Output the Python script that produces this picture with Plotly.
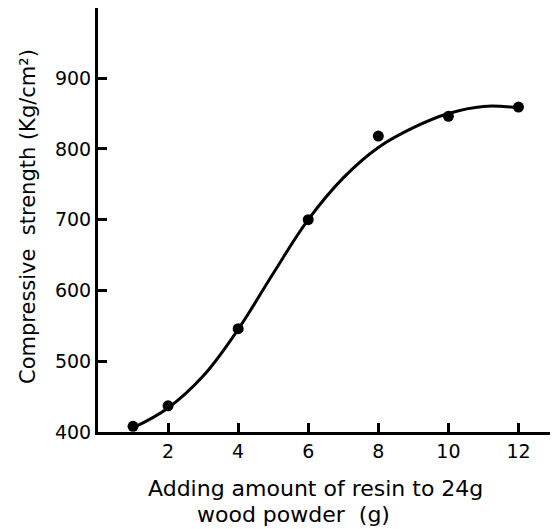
import plotly.graph_objects as go

# measured points
resin_g = [1, 2, 4, 6, 8, 10, 12]
strength = [408, 437, 546, 700, 818, 846, 859]

# fitted curve
curve_x = [1, 2, 3, 4, 5, 6, 7, 8, 9, 10, 11, 12]
curve_y = [406, 434, 479, 545, 624, 700, 759, 802, 830, 850, 860, 858]

x_ticks = [2, 4, 6, 8, 10, 12]
y_ticks = [400, 500, 600, 700, 800, 900]

FONT = "DejaVu Sans"

fig = go.Figure()
fig.add_trace(go.Scatter(x=curve_x, y=curve_y, mode="lines",
                         line=dict(color="black", width=3, shape="spline", smoothing=1.1),
                         hoverinfo="skip", showlegend=False, cliponaxis=False))
fig.add_trace(go.Scatter(x=resin_g, y=strength, mode="markers",
                         marker=dict(color="black", size=11),
                         showlegend=False, cliponaxis=False))

fig.update_layout(
    width=552, height=529,
    margin=dict(l=98, r=2, t=8, b=97),
    paper_bgcolor="white", plot_bgcolor="white",
    font=dict(family=FONT, color="black", size=19),
    xaxis=dict(range=[0, 12.9], tickvals=x_ticks, ticktext=[str(v) for v in x_ticks],
               ticks="inside", ticklen=9, tickwidth=3, tickcolor="black",
               showline=True, linecolor="black", linewidth=3, showgrid=False,
               zeroline=False, tickfont=dict(size=19, family=FONT)),
    yaxis=dict(range=[400, 999], tickvals=y_ticks, ticktext=[str(v) for v in y_ticks],
               ticks="inside", ticklen=9, tickwidth=3, tickcolor="black",
               showline=True, linecolor="black", linewidth=3, showgrid=False,
               zeroline=False, tickfont=dict(size=19, family=FONT)),
    annotations=[
        dict(text="Adding amount of resin to 24g", xref="paper", yref="paper",
             x=(315 - 98) / 452, y=-(488 - 432) / 424, xanchor="center", yanchor="middle",
             showarrow=False, font=dict(size=22, family=FONT)),
        dict(text="wood powder  (g)", xref="paper", yref="paper",
             x=(293 - 98) / 452, y=-(514 - 432) / 424, xanchor="center", yanchor="middle",
             showarrow=False, font=dict(size=22, family=FONT)),
        dict(text="Compressive  strength (Kg/cm²)", xref="paper", yref="paper",
             x=-(98 - 28) / 452, y=(432 - 217) / 424, xanchor="center", yanchor="middle",
             textangle=-90, showarrow=False, font=dict(size=21, family=FONT)),
    ],
)

fig.write_html("out.html")
